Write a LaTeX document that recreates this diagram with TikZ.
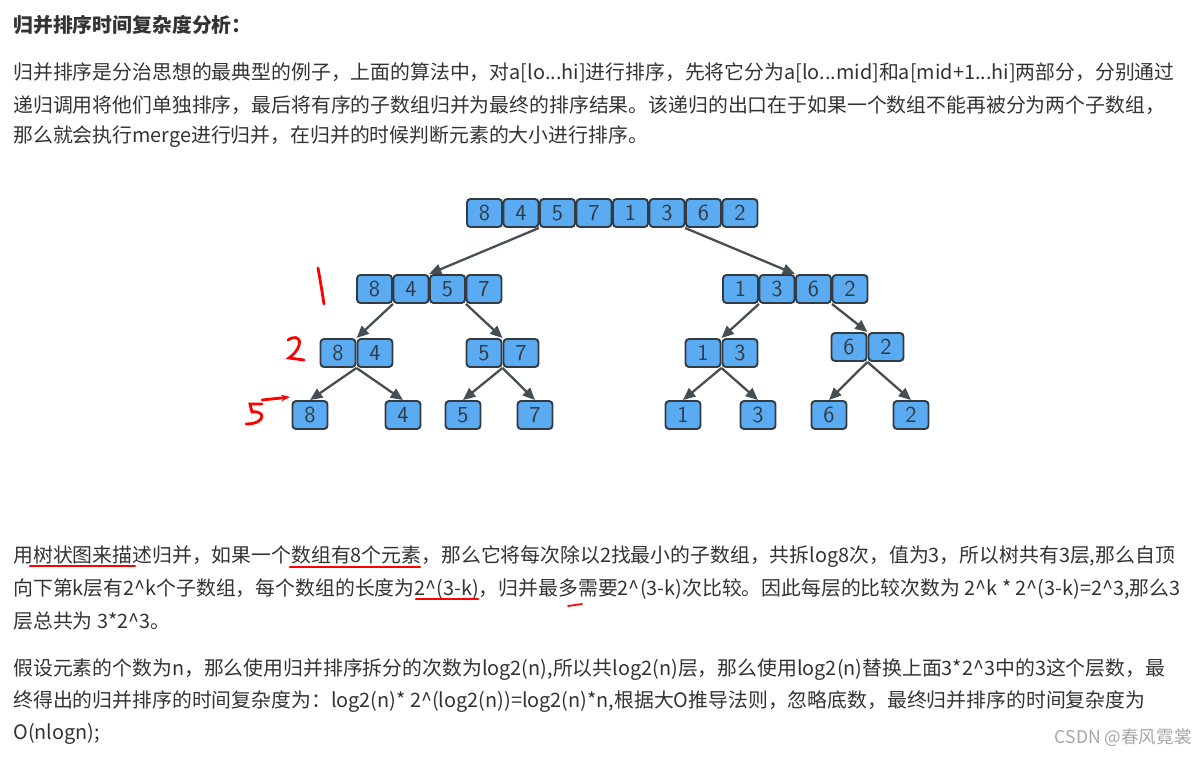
\documentclass[tikz,border=0pt]{standalone}
\usepackage{fontspec}
\setmainfont{Noto Sans CJK SC}
\usetikzlibrary{arrows.meta}
\definecolor{cellblue}{HTML}{5AABF2}
\definecolor{cellline}{HTML}{333A40}
\definecolor{txtgray}{HTML}{333333}

\begin{document}
\begin{tikzpicture}[
    x=0.02cm, y=-0.02cm,
    cell/.style={rectangle, rounded corners=2pt, draw=cellline, fill=cellblue, line width=1.1pt, minimum width=0.7cm, minimum height=0.56cm, inner sep=0pt, font=\sffamily\fontsize{13pt}{13pt}\selectfont, text=cellline},
    split/.style={-{Triangle[length=7pt,width=6pt]}, draw=cellline!90, line width=1.3pt},
    line/.style={anchor=west, inner sep=0pt, font=\fontsize{11.3pt}{12pt}\selectfont, text=txtgray},
    pen/.style={red, line width=1.6pt, line cap=round}
]
\useasboundingbox (0,0) rectangle (1203,757);

% Heading and first paragraph
\node[line, font=\bfseries\fontsize{11.3pt}{12pt}\selectfont] (head) at (13,25) {归并排序时间复杂度分析：};
\node[line] (p1a) at (13,73) {归并排序是分治思想的最典型的例子，上面的算法中，对a[lo...hi]进行排序，先将它分为a[lo...mid]和a[mid+1...hi]两部分，分别通过};
\node[line] (p1b) at (13,105) {递归调用将他们单独排序，最后将有序的子数组归并为最终的排序结果。该递归的出口在于如果一个数组不能再被分为两个子数组，};
\node[line] (p1c) at (13,137) {那么就会执行merge进行归并，在归并的时候判断元素的大小进行排序。};

% Top row
\foreach \v [count=\i] in {8,4,5,7,1,3,6,2}
  \node[cell] (t\i) at (466+36.5*\i-18,213) {\v};

% Second row
\foreach \v [count=\i] in {8,4,5,7}
  \node[cell] (l\i) at (356+36.5*\i-18,289) {\v};
\foreach \v [count=\i] in {1,3,6,2}
  \node[cell] (r\i) at (722+36.5*\i-18,289) {\v};

% Third row
\node[cell] (a1) at (338,353) {8};
\node[cell] (a2) at (375,353) {4};
\node[cell] (b1) at (484,353) {5};
\node[cell] (b2) at (521,353) {7};
\node[cell] (c1) at (703,353) {1};
\node[cell] (c2) at (740,353) {3};
\node[cell] (d1) at (849,347) {6};
\node[cell] (d2) at (886,347) {2};

% Leaves
\foreach \n/\v/\x in {e1/8/310, e2/4/403, e3/5/463, e4/7/535, e5/1/683, e6/3/758, e7/6/829, e8/2/911}
  \node[cell] (\n) at (\x,415) {\v};

% Splits
\draw[split] (t3.south west) -- (l3.north west);
\draw[split] (t7.south west) -- (r3.north west);
\draw[split] (l1.south east) -- (a2.north west);
\draw[split] (l3.south east) -- (b1.north east);
\draw[split] (r1.south east) -- (c1.north east);
\draw[split] (r3.south east) -- (d1.north east);
\foreach \p/\l/\r in {a/e1/e2, b/e3/e4, c/e5/e6, d/e7/e8} {
  \draw[split] (\p1.south east) -- (\l.north);
  \draw[split] (\p1.south east) -- (\r.north);
}

% Handwritten level marks
\draw[pen] (318,268) .. controls (321,285) .. (324,304);
\draw[pen] (288,340) .. controls (300,332) and (306,345) .. (289,358) -- (304,360);
\draw[pen] (262,404) -- (250,404) -- (252,412) .. controls (266,410) and (266,424) .. (246,424);
\draw[pen, -{Stealth[length=5pt]}] (262,400) -- (290,397);

% Second paragraph
\node[line] (p2a) at (13,557) {用树状图来描述归并，如果一个数组有8个元素，那么它将每次除以2找最小的子数组，共拆log8次，值为3，所以树共有3层,那么自顶};
\node[line] (p2b) at (13,589) {向下第k层有2\^{}k个子数组，每个数组的长度为2\^{}(3-k)，归并最多需要2\^{}(3-k)次比较。因此每层的比较次数为 2\^{}k * 2\^{}(3-k)=2\^{}3,那么3};
\node[line] (p2c) at (13,621) {层总共为 3*2\^{}3。};
\draw[pen] (30,566) -- (135,566);
\draw[pen] (290,567) -- (420,567);
\draw[pen] (416,599) -- (478,599);
\draw[pen, line width=1pt] (568,606) -- (582,604);

% Third paragraph
\node[line] (p3a) at (13,670) {假设元素的个数为n，那么使用归并排序拆分的次数为log2(n),所以共log2(n)层，那么使用log2(n)替换上面3*2\^{}3中的3这个层数，最};
\node[line] (p3b) at (13,702) {终得出的归并排序的时间复杂度为：log2(n)* 2\^{}(log2(n))=log2(n)*n,根据大O推导法则，忽略底数，最终归并排序的时间复杂度为};
\node[line] (p3c) at (13,734) {O(nlogn);};

% Watermark
\node[line, anchor=east, text=gray!70, font=\fontsize{10pt}{10pt}\selectfont] (mark) at (1192,738) {CSDN @春风霓裳};
\end{tikzpicture}
\end{document}
